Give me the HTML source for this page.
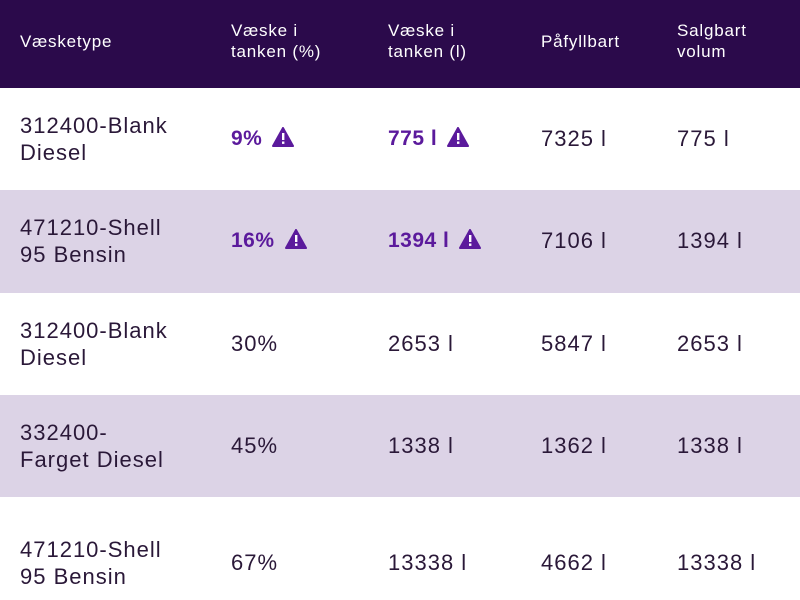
<!DOCTYPE html>
<html><head><meta charset="utf-8"><style>
body{margin:0;width:800px;height:600px;overflow:hidden;font-family:"Liberation Sans",sans-serif;background:#fff;position:relative;color:#2a1838}
.hd{position:absolute;left:0;top:0;width:800px;height:88px;background:#2b0a4b}
.r{position:absolute;left:0;width:800px}
.t{position:absolute;white-space:nowrap}
.h{color:#fff;font-size:17px;line-height:21px;font-weight:500;letter-spacing:0.8px}
.b{font-size:22px;line-height:27px;letter-spacing:1px}
.w{color:#5b1a9c;font-weight:bold;font-size:21px;letter-spacing:0.5px}
.tri{display:inline-block;vertical-align:-2px;margin-left:10px}
</style></head><body>
<div class="hd"></div>
<div class="r" style="top:88px;height:102px;background:#fff"></div>
<div class="r" style="top:190px;height:103px;background:#dcd3e6"></div>
<div class="r" style="top:293px;height:102px;background:#fff"></div>
<div class="r" style="top:395px;height:102px;background:#dcd3e6"></div>
<div class="t h" style="left:20px;top:31px">Væsketype</div>
<div class="t h" style="left:231px;top:20px">Væske i<br>tanken (%)</div>
<div class="t h" style="left:388px;top:20px">Væske i<br>tanken (l)</div>
<div class="t h" style="left:541px;top:31px">Påfyllbart</div>
<div class="t h" style="left:677px;top:20px">Salgbart<br>volum</div>

<div class="t b" style="left:20px;top:112px">312400-Blank<br>Diesel</div>
<div class="t b w" style="left:231px;top:125px">9%<svg class="tri" width="22" height="20" viewBox="0 0 22 20"><path d="M11 1L21 19H1Z" fill="#5b1a9c" stroke="#5b1a9c" stroke-linejoin="round" stroke-width="2"/><rect x="10" y="6" width="2.4" height="7" fill="#fff"/><rect x="10" y="14.5" width="2.4" height="2.4" fill="#fff"/></svg></div>
<div class="t b w" style="left:388px;top:125px">775 l<svg class="tri" width="22" height="20" viewBox="0 0 22 20"><path d="M11 1L21 19H1Z" fill="#5b1a9c" stroke="#5b1a9c" stroke-linejoin="round" stroke-width="2"/><rect x="10" y="6" width="2.4" height="7" fill="#fff"/><rect x="10" y="14.5" width="2.4" height="2.4" fill="#fff"/></svg></div>
<div class="t b" style="left:541px;top:125px">7325 l</div>
<div class="t b" style="left:677px;top:125px">775 l</div>

<div class="t b" style="left:20px;top:214px">471210-Shell<br>95 Bensin</div>
<div class="t b w" style="left:231px;top:227px">16%<svg class="tri" width="22" height="20" viewBox="0 0 22 20"><path d="M11 1L21 19H1Z" fill="#5b1a9c" stroke="#5b1a9c" stroke-linejoin="round" stroke-width="2"/><rect x="10" y="6" width="2.4" height="7" fill="#fff"/><rect x="10" y="14.5" width="2.4" height="2.4" fill="#fff"/></svg></div>
<div class="t b w" style="left:388px;top:227px">1394 l<svg class="tri" width="22" height="20" viewBox="0 0 22 20"><path d="M11 1L21 19H1Z" fill="#5b1a9c" stroke="#5b1a9c" stroke-linejoin="round" stroke-width="2"/><rect x="10" y="6" width="2.4" height="7" fill="#fff"/><rect x="10" y="14.5" width="2.4" height="2.4" fill="#fff"/></svg></div>
<div class="t b" style="left:541px;top:227px">7106 l</div>
<div class="t b" style="left:677px;top:227px">1394 l</div>

<div class="t b" style="left:20px;top:317px">312400-Blank<br>Diesel</div>
<div class="t b" style="left:231px;top:330px">30%</div>
<div class="t b" style="left:388px;top:330px">2653 l</div>
<div class="t b" style="left:541px;top:330px">5847 l</div>
<div class="t b" style="left:677px;top:330px">2653 l</div>

<div class="t b" style="left:20px;top:419px">332400-<br>Farget Diesel</div>
<div class="t b" style="left:231px;top:432px">45%</div>
<div class="t b" style="left:388px;top:432px">1338 l</div>
<div class="t b" style="left:541px;top:432px">1362 l</div>
<div class="t b" style="left:677px;top:432px">1338 l</div>

<div class="t b" style="left:20px;top:536px">471210-Shell<br>95 Bensin</div>
<div class="t b" style="left:231px;top:549px">67%</div>
<div class="t b" style="left:388px;top:549px">13338 l</div>
<div class="t b" style="left:541px;top:549px">4662 l</div>
<div class="t b" style="left:677px;top:549px">13338 l</div>
</body></html>
